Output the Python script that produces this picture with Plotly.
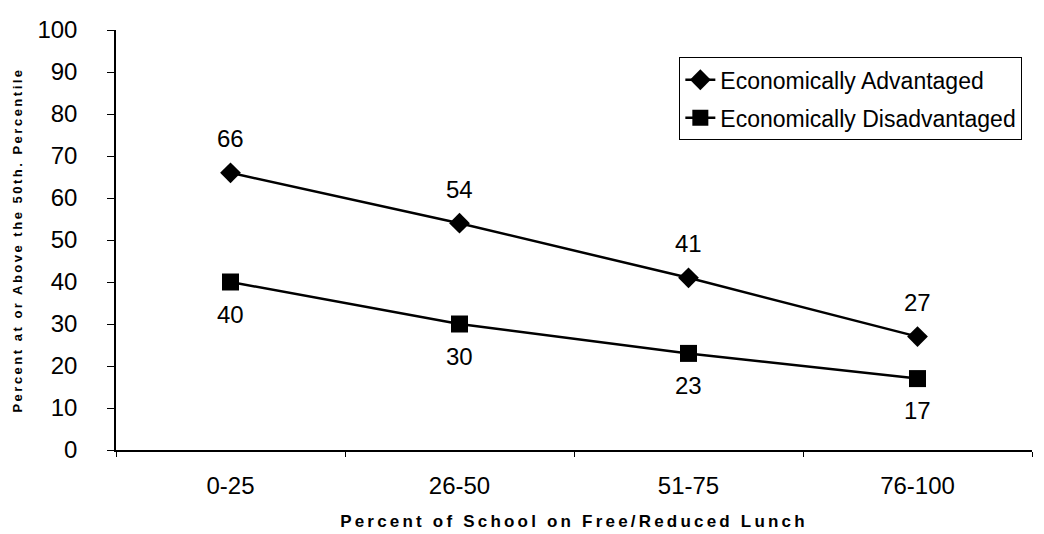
import plotly.graph_objects as go

categories = ["0-25", "26-50", "51-75", "76-100"]
advantaged = [66, 54, 41, 27]
disadvantaged = [40, 30, 23, 17]
y_ticks = list(range(0, 101, 10))

FONT = "Liberation Sans, Arial, sans-serif"

fig = go.Figure()
fig.add_trace(go.Scatter(
    x=categories, y=advantaged, mode="lines+markers",
    name="Economically Advantaged", legendgroup="a",
    line=dict(color="black", width=2.5),
    marker=dict(symbol="diamond", size=16, color="black"),
))
fig.add_trace(go.Scatter(
    x=categories, y=disadvantaged, mode="lines+markers",
    name="Economically Disadvantaged", legendgroup="d",
    line=dict(color="black", width=2.5),
    marker=dict(symbol="square", size=17, color="black"),
))

for c, v in zip(categories, advantaged):
    fig.add_annotation(x=c, y=v, text=str(v), showarrow=False, yshift=34,
                       font=dict(family=FONT, size=24, color="black"))
for c, v in zip(categories, disadvantaged):
    fig.add_annotation(x=c, y=v, text=str(v), showarrow=False, yshift=-32,
                       font=dict(family=FONT, size=24, color="black"))

fig.update_layout(
    width=1044, height=534,
    margin=dict(l=108, r=20, t=22, b=92),
    paper_bgcolor="white", plot_bgcolor="white",
    font=dict(family=FONT, color="black"),
    legend=dict(
        x=0.615, y=0.935, xanchor="left", yanchor="top",
        bordercolor="black", borderwidth=1,
        font=dict(family=FONT, size=23, color="black"),
        bgcolor="white",
        tracegroupgap=5,
        itemwidth=30,
        entrywidth=310, entrywidthmode="pixels",
    ),
    xaxis=dict(
        type="category", range=[-0.5, 3.5], automargin=False,
        showline=True, linecolor="black", linewidth=1.5,
        ticks="outside", ticklen=5, tickcolor="black", tickson="boundaries",
        showgrid=False, zeroline=False,
        tickfont=dict(family=FONT, size=24, color="black"),
        ticklabelstandoff=13,
        title=dict(text="<b>Percent of School on Free/Reduced Lunch</b>",
                   font=dict(family=FONT, size=17, color="black"), standoff=18),
    ),
    yaxis=dict(
        range=[0, 100], tickvals=y_ticks, automargin=False,
        showline=True, linecolor="black", linewidth=1.5,
        ticks="outside", ticklen=7, tickcolor="black",
        showgrid=False, zeroline=False,
        tickfont=dict(family=FONT, size=24, color="black"),
        ticklabelstandoff=25,
        title=dict(text="<b>Percent at or Above the 50th. Percentile</b>",
                   font=dict(family=FONT, size=13, color="black"), standoff=12),
    ),
    showlegend=True,
)

post_js = """
var gd = document.getElementById('{plot_id}');
function spaceTitles(){
  var xt = gd.querySelector('.g-xtitle text');
  if (xt) xt.setAttribute('letter-spacing', '3.2px');
  var yt = gd.querySelector('.g-ytitle text');
  if (yt) yt.setAttribute('letter-spacing', '2.5px');
}
spaceTitles();
gd.on('plotly_afterplot', spaceTitles);
"""

fig.write_html("out.html", post_script=post_js)
